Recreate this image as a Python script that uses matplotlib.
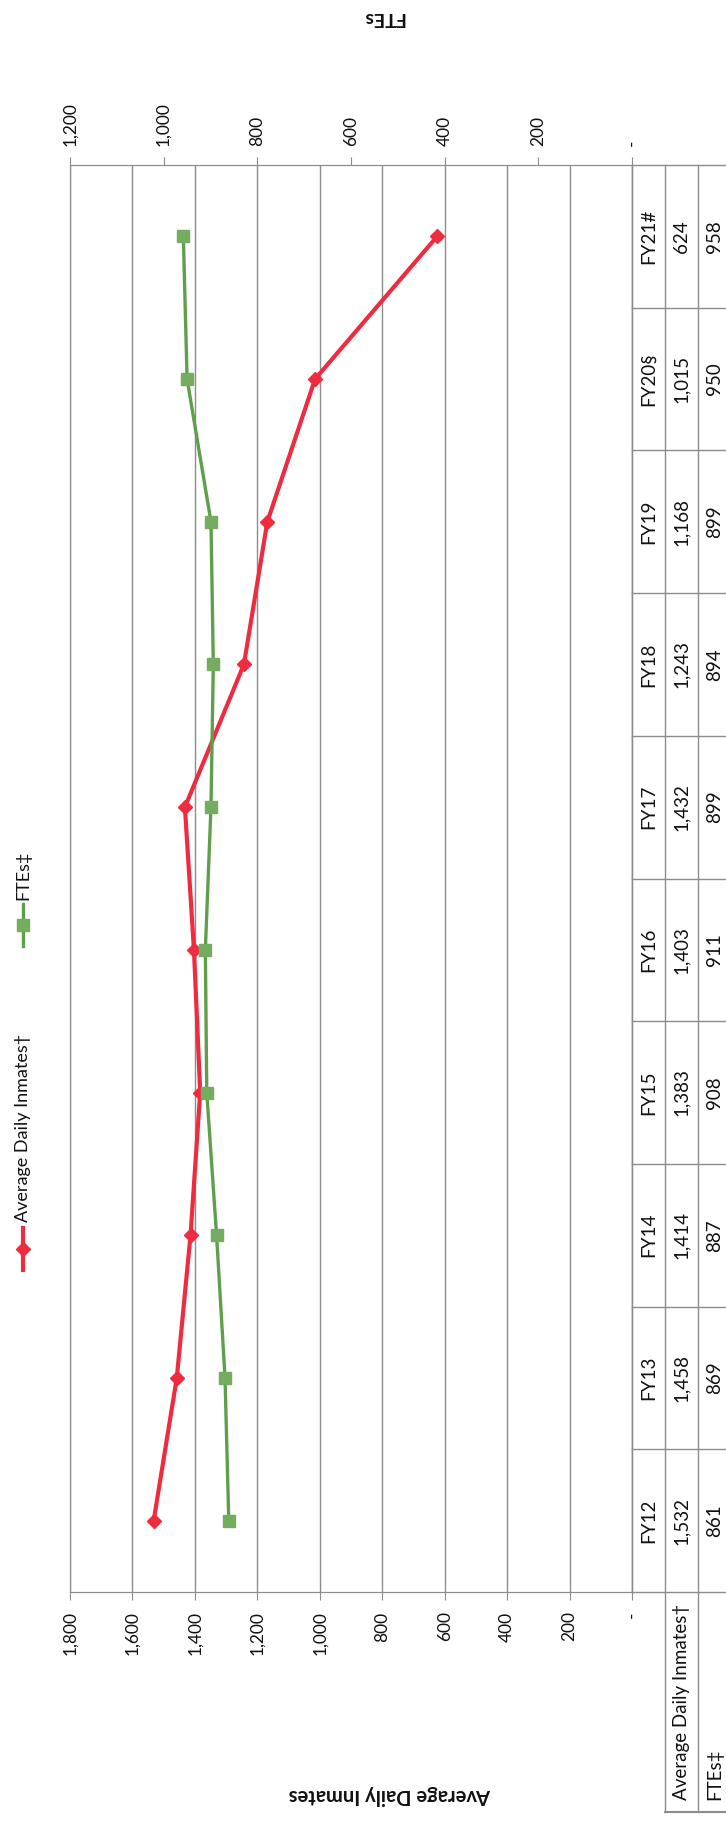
import numpy as np
import matplotlib
matplotlib.use("Agg")
import matplotlib.pyplot as plt
from matplotlib.lines import Line2D

years = ["FY12", "FY13", "FY14", "FY15", "FY16", "FY17", "FY18", "FY19", "FY20§", "FY21#"]
avg_inmates = [1532, 1458, 1414, 1383, 1403, 1432, 1243, 1168, 1015, 624]
ftes = [861, 869, 887, 908, 911, 899, 894, 899, 950, 958]
inmate_ticks = list(range(0, 1801, 200))
fte_ticks = list(range(0, 1201, 200))

RED = "#ee2b3f"
GREEN = "#5f9e4b"
GREEN_MK = "#74ad60"
GRID = "#8c8c8c"
TXT = "#111111"

plt.rcParams["font.family"] = ["Lato", "DejaVu Sans"]

W, H = 726, 1821
fig = plt.figure(figsize=(W / 100, H / 100), dpi=100)


def fx(px):
    return px / W


def fy(py):
    return 1 - py / H


def fmt(v):
    return "-" if v == 0 else f"{v:,}"


# the page is scanned sideways: value axes run horizontally, years run bottom -> top
L, R, T, B = 70, 632, 165, 1592
ax = fig.add_axes([fx(L), fy(B), (R - L) / W, (B - T) / H])
idx = np.arange(len(years))
ax.set_xlim(1800, 0)
ax.set_ylim(-0.5, len(years) - 0.5)
ax.plot(avg_inmates, idx, color=RED, lw=3, marker="D", ms=7.5, zorder=3)
ax.set_xticks(inmate_ticks)
ax.set_xticklabels([fmt(v) for v in inmate_ticks], rotation=90)
ax.set_yticks([])
ax.grid(axis="x", color=GRID, lw=1)
ax.tick_params(axis="x", length=6, color=GRID, labelsize=12.5, labelcolor=TXT, pad=8)
for s in ax.spines.values():
    s.set_color(GRID)

ax2 = ax.twiny()
ax2.set_xlim(1200, 0)
ax2.plot(ftes, idx, color=GREEN, lw=2.4, marker="s", ms=9,
         mfc=GREEN_MK, mec=GREEN_MK, zorder=3)
ax2.set_xticks(fte_ticks)
ax2.set_xticklabels([fmt(v) for v in fte_ticks], rotation=90)
ax2.tick_params(axis="x", length=6, color=GRID, labelsize=12.5, labelcolor=TXT, pad=8)
for s in ax2.spines.values():
    s.set_color(GRID)

# axis titles (upside down on the scan)
fig.text(fx(383), fy(18), "FTEs", rotation=180, ha="center", va="center",
         fontsize=14, fontweight="bold", color=TXT)
fig.text(fx(390), fy(1795), "Average Daily Inmates", rotation=180, ha="center",
         va="center", fontsize=14.5, fontweight="bold", color=TXT)

# data table to the right of the plot
COLW = 33
TB = 1812
cat_px = (B - T) / len(years)
extra = (TB - B) / cat_px
tab = fig.add_axes([fx(R), fy(TB), 3 * COLW / W, (TB - T) / H])
tab.set_xlim(0, 3)
ybot = -0.5 - extra
tab.set_ylim(ybot, len(years) - 0.5)
tab.axis("off")
for k in range(len(years) + 1):
    tab.plot([0, 3], [k - 0.5, k - 0.5], color=GRID, lw=1, clip_on=False)
tab.plot([0, 0], [-0.5, len(years) - 0.5], color=GRID, lw=1, clip_on=False)
for c in (1, 2, 3):
    tab.plot([c, c], [ybot, len(years) - 0.5], color=GRID, lw=1, clip_on=False)
tab.plot([1, 3], [ybot, ybot], color=GRID, lw=1.5, clip_on=False)
for i in idx:
    tab.text(0.5, i, years[i], rotation=90, ha="center", va="center", fontsize=13.5, color=TXT)
    tab.text(1.5, i, f"{avg_inmates[i]:,}", rotation=90, ha="center", va="center",
             fontsize=13.5, color=TXT)
    tab.text(2.5, i, f"{ftes[i]:,}", rotation=90, ha="center", va="center",
             fontsize=13.5, color=TXT)
ylab = ybot + 12 / cat_px
tab.text(1.5, ylab, "Average Daily Inmates†", rotation=90, ha="center", va="bottom",
         fontsize=13.5, color=TXT)
tab.text(2.5, ylab, "FTEs‡", rotation=90, ha="center", va="bottom",
         fontsize=13.5, color=TXT)

# legend, drawn by hand because it is turned sideways
lx = fx(23)
fig.add_artist(Line2D([lx, lx], [fy(1270), fy(1228)], color=RED, lw=3,
                      transform=fig.transFigure))
fig.add_artist(Line2D([lx], [fy(1249)], color=RED, marker="D", ms=7.5,
                      transform=fig.transFigure))
fig.text(lx, fy(1222), "Average Daily Inmates†", rotation=90, ha="center", va="bottom",
         fontsize=13, color=TXT)
fig.add_artist(Line2D([lx, lx], [fy(946), fy(904)], color=GREEN, lw=2.4,
                      transform=fig.transFigure))
fig.add_artist(Line2D([lx], [fy(925)], color=GREEN_MK, marker="s", ms=9,
                      transform=fig.transFigure))
fig.text(lx, fy(900), "FTEs‡", rotation=90, ha="center", va="bottom",
         fontsize=13, color=TXT)

fig.savefig("out.png", dpi=100)
